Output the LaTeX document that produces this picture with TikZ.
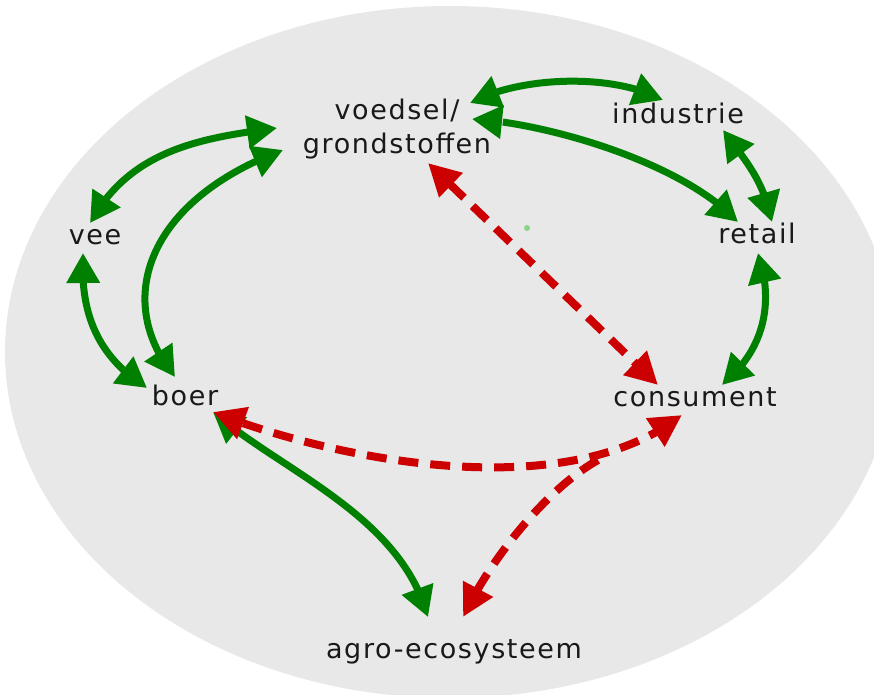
\documentclass[tikz,border=0pt]{standalone}
\usepackage{fontspec}
\setmainfont{DejaVu Sans}[LetterSpace=6]
\usetikzlibrary{arrows.meta,bending}
\definecolor{bggray}{RGB}{232,232,232}
\definecolor{grn}{RGB}{0,128,0}
\definecolor{rd}{RGB}{204,0,0}
\definecolor{txt}{RGB}{25,25,25}
\definecolor{dotgreen}{RGB}{140,210,140}
\begin{document}
\begin{tikzpicture}[x=1pt,y=-1pt,
  lbl/.style={text=txt,inner sep=0pt,font=\fontsize{27}{34}\selectfont},
  garrow/.style={draw=grn,line width=7pt,
    {Triangle[length=30pt,width=32pt]}-{Triangle[length=30pt,width=32pt]}},
  rarrow/.style={draw=rd,line width=8pt,dash pattern=on 20pt off 12pt,
    {Triangle[length=32pt,width=32pt]}-{Triangle[length=32pt,width=32pt]}},
  rarrowone/.style={draw=rd,line width=8pt,dash pattern=on 20pt off 12pt,
    -{Triangle[length=32pt,width=32pt]}}]
\useasboundingbox (0,0) rectangle (874,694);
\fill[bggray] (450,352) ellipse [x radius=445pt, y radius=346pt];
\fill[dotgreen] (527,228) circle [radius=3pt];

\node[lbl,anchor=center,align=center] (voed) at (397,129) {voedsel/\\grondstoffen};
\node[lbl,anchor=base] (ind) at (678,123) {industrie};
\node[lbl,anchor=base] (vee) at (95,244) {vee};
\node[lbl,anchor=base] (ret) at (757,243) {retail};
\node[lbl,anchor=base] (boer) at (185,405) {boer};
\node[lbl,anchor=base] (cons) at (695,406) {consument};
\node[lbl,anchor=base] (agro) at (454,658) {agro-ecosysteem};
\coordinate (split) at (598,460);

% green connectors
\draw[garrow] ([shift={(-5,-21)}]vee.base) .. controls (130,150) and (200,138) .. ([shift={(-120,-1)}]voed.center);
\draw[garrow] ([shift={(-10,-28)}]boer.base) .. controls (112,300) and (148,200) .. ([shift={(-114,21)}]voed.center);
\draw[garrow] ([shift={(-12,9)}]vee.base) .. controls (80,310) and (95,355) .. ([shift={(-38,-17)}]boer.base);
\draw[garrow] ([shift={(73,-26)}]voed.center) .. controls (520,76) and (613,73) .. ([shift={(-15,-23)}]ind.base);
\draw[garrow] ([shift={(75,-10)}]voed.center) .. controls (540,122) and (680,160) .. ([shift={(-19,-21)}]ret.base);
\draw[garrow] ([shift={(45,7)}]ind.base) .. controls (748,164) and (763,180) .. ([shift={(15,-21)}]ret.base);
\draw[garrow] ([shift={(1,10)}]ret.base) .. controls (772,295) and (770,345) .. ([shift={(27,-21)}]cons.base);
\draw[garrow] ([shift={(28,7)}]boer.base) .. controls (283,472) and (400,515) .. ([shift={(-26,-41)}]agro.base);

% red connectors
\draw[rarrow] ([shift={(31,34)}]voed.center) -- ([shift={(-37,-21)}]cons.base);
\draw[rarrow] ([shift={(28,7)}]boer.base) .. controls (320,455) and (560,510) .. ([shift={(-13,9)}]cons.base);
\draw[rarrowone] (split) .. controls (545,490) and (490,560) .. ([shift={(9,-41)}]agro.base);
\end{tikzpicture}
\end{document}
